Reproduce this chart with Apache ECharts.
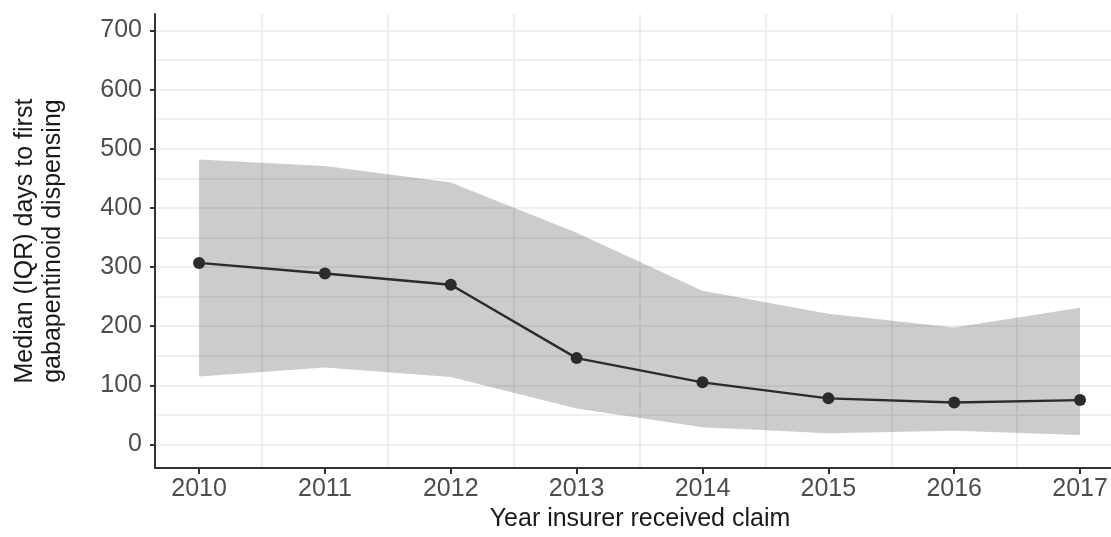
<!DOCTYPE html>
<html>
<head>
<meta charset="utf-8">
<title>Days to first gabapentinoid dispensing</title>
<script src="https://cdn.jsdelivr.net/npm/echarts@6/dist/echarts.min.js"></script>
<style>
  html, body { margin: 0; padding: 0; background: #ffffff; }
  #chart { width: 1111px; height: 537px; }
</style>
</head>
<body>
<div id="chart"></div>
<script>
// Claim year and days to first gabapentinoid dispensing (median with IQR)
const years = [2010, 2011, 2012, 2013, 2014, 2015, 2016, 2017];
const medianDays = [307, 289, 270, 146, 105, 78, 71, 75];
const q1Days = [115, 130, 114, 61, 29, 19, 23, 16];
const q3Days = [482, 471, 443, 358, 260, 221, 198, 231];

// Axis tick values and background grid positions
const yTicks = [0, 100, 200, 300, 400, 500, 600, 700];
const yGridLines = [0, 50, 100, 150, 200, 250, 300, 350, 400, 450, 500, 550, 600, 650, 700];
const xGridLines = [2010.5, 2011.5, 2012.5, 2013.5, 2014.5, 2015.5, 2016.5];

const FONT = '"Liberation Sans", Arial, Helvetica, sans-serif';
const INK = '#333333';
const GRID = '#ebebeb';

const chart = echarts.init(document.getElementById('chart'), null, { renderer: 'canvas' });

const gridMarks = []
  .concat(yGridLines.map(v => ({ yAxis: v })))
  .concat(xGridLines.map(v => ({ xAxis: v })));

chart.setOption({
  animation: false,
  backgroundColor: '#ffffff',
  grid: { left: 155, right: 0, top: 14, bottom: 65, containLabel: false },
  xAxis: {
    type: 'value',
    z: 10,
    min: 2009.65,
    max: 2017.246,
    name: 'Year insurer received claim',
    nameLocation: 'middle',
    nameGap: 36,
    nameTextStyle: { fontFamily: FONT, fontSize: 25, color: '#1a1a1a', padding: [0, 0, 0, 14] },
    axisLine: { show: true, onZero: false, lineStyle: { color: INK, width: 2 } },
    axisTick: { show: true, length: 6, customValues: years, lineStyle: { color: INK, width: 2 } },
    axisLabel: {
      customValues: years,
      margin: 9,
      fontFamily: FONT, fontSize: 25, color: '#4d4d4d',
      formatter: v => String(Math.round(v))
    },
    splitLine: { show: false }
  },
  yAxis: {
    type: 'value',
    z: 10,
    min: -40,
    max: 728,
    name: 'Median (IQR) days to first\ngabapentinoid dispensing',
    nameLocation: 'middle',
    nameRotate: 90,
    nameGap: 88,
    nameTextStyle: { fontFamily: FONT, fontSize: 25, lineHeight: 28, color: '#1a1a1a' },
    axisLine: { show: true, onZero: false, lineStyle: { color: INK, width: 2 } },
    axisTick: { show: true, length: 5, customValues: yTicks, lineStyle: { color: INK, width: 2 } },
    axisLabel: {
      customValues: yTicks,
      margin: 13,
      fontFamily: FONT, fontSize: 25, color: '#4d4d4d'
    },
    splitLine: { show: false }
  },
  series: [
    {
      // background grid lines, kept underneath everything else
      type: 'line',
      name: 'grid',
      data: [],
      z: 0,
      silent: true,
      markLine: {
        z: 0,
        silent: true,
        symbol: ['none', 'none'],
        label: { show: false },
        emphasis: { disabled: true },
        lineStyle: { type: 'solid', color: GRID, width: 1.6 },
        data: gridMarks
      }
    },
    {
      // interquartile range ribbon
      type: 'custom',
      name: 'IQR',
      z: 2,
      silent: true,
      data: [0],
      renderItem: (params, api) => {
        const upper = years.map((y, i) => api.coord([y, q3Days[i]]));
        const lower = years.map((y, i) => api.coord([y, q1Days[i]])).reverse();
        return {
          type: 'polygon',
          shape: { points: upper.concat(lower) },
          style: { fill: 'rgba(0,0,0,0.2)', stroke: 'none' }
        };
      }
    },
    {
      type: 'line',
      name: 'Median',
      z: 3,
      data: years.map((y, i) => [y, medianDays[i]]),
      symbol: 'circle',
      symbolSize: 12,
      showSymbol: true,
      lineStyle: { color: '#2b2b2b', width: 2.4 },
      itemStyle: { color: '#2b2b2b' }
    }
  ]
});
</script>
</body>
</html>
